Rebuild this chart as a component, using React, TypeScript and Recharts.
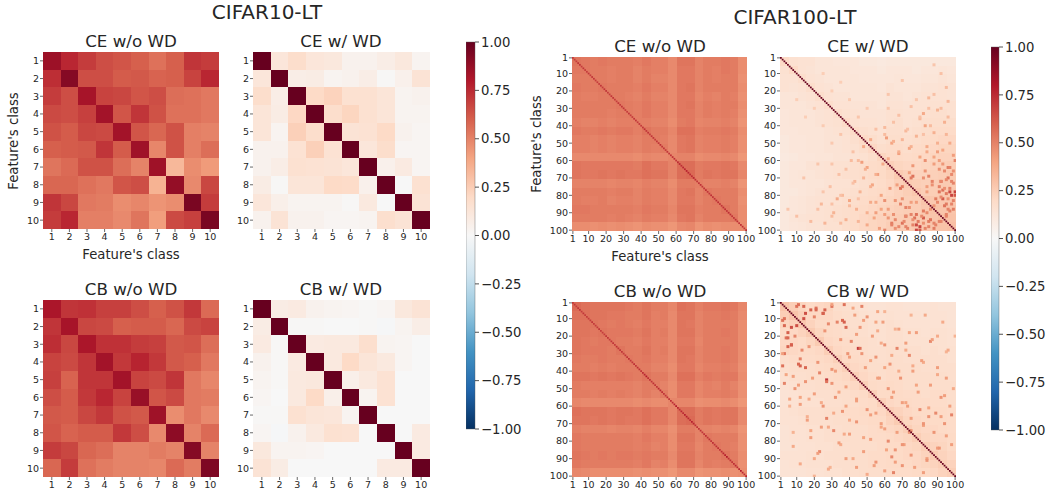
import React from "react";
import { ScatterChart, Scatter, XAxis, YAxis, ReferenceArea } from "recharts";

const classes10 = [1, 2, 3, 4, 5, 6, 7, 8, 9, 10];
const ticks100 = [1, 10, 20, 30, 40, 50, 60, 70, 80, 90, 100];
const barTicks = [-1, -0.75, -0.5, -0.25, 0, 0.25, 0.5, 0.75, 1];
const barEnds = [{ a: 0.5, b: -1 }, { a: 0.5, b: 1 }];

const ceNoWd10 = [
  [.86,.76,.70,.65,.63,.60,.55,.60,.72,.70],
  [.74,.92,.65,.65,.61,.62,.59,.60,.68,.76],
  [.70,.65,.83,.68,.67,.63,.65,.56,.55,.53],
  [.66,.65,.69,.84,.63,.72,.64,.55,.55,.53],
  [.64,.61,.67,.66,.84,.63,.58,.64,.51,.50],
  [.60,.61,.62,.72,.61,.85,.49,.64,.51,.56],
  [.54,.57,.64,.64,.56,.50,.85,.33,.47,.43],
  [.58,.58,.55,.53,.63,.65,.35,.88,.48,.67],
  [.72,.67,.53,.52,.47,.49,.45,.47,.95,.70],
  [.70,.76,.51,.51,.48,.54,.42,.66,.69,.95],
];
const ceWd10 = [
  [1,.12,.18,.12,.11,.04,.04,.07,.11,.03],
  [.12,1,.07,.08,.03,.04,.07,.01,.05,.14],
  [.18,.07,1,.20,.23,.16,.16,.13,.03,.04],
  [.13,.08,.21,1,.18,.22,.16,.13,.03,.03],
  [.13,.03,.24,.18,1,.14,.15,.20,.04,.02],
  [.04,.04,.15,.24,.15,1,.12,.18,.02,.02],
  [.04,.07,.16,.15,.14,.12,1,.05,.09,.02],
  [.08,.01,.13,.13,.20,.19,.05,1,0,.16],
  [.12,.06,.03,.03,.03,.01,.10,0,1,.14],
  [.04,.14,.04,.04,.02,.02,.03,.17,.14,1],
];
const cbNoWd10 = [
  [.82,.72,.73,.69,.69,.65,.60,.64,.71,.57],
  [.72,.83,.67,.66,.60,.61,.61,.58,.66,.68],
  [.74,.67,.82,.73,.73,.70,.69,.62,.63,.56],
  [.68,.66,.72,.84,.71,.77,.71,.62,.60,.53],
  [.69,.59,.72,.72,.84,.68,.66,.72,.53,.49],
  [.65,.61,.71,.76,.68,.87,.63,.66,.53,.52],
  [.62,.61,.67,.71,.64,.62,.85,.47,.53,.48],
  [.63,.59,.61,.61,.71,.65,.48,.90,.50,.57],
  [.70,.67,.58,.56,.50,.50,.52,.50,.92,.50],
  [.58,.70,.55,.52,.50,.50,.49,.57,.52,.94],
];
const cbWd10 = [
  [1,.08,.09,.04,.03,.02,.01,.02,.11,.14],
  [.08,1,.01,.01,0,0,.01,-.01,.03,.07],
  [.09,.01,1,.09,.10,.10,.17,.03,.02,0],
  [.04,.01,.09,1,.10,.20,.13,.10,.02,0],
  [.03,.01,.10,.11,1,.06,.10,.15,0,0],
  [.02,0,.10,.20,.06,1,.03,.15,0,0],
  [.01,.01,.16,.13,.12,.03,1,0,0,0],
  [.02,-.01,.04,.10,.16,.15,0,1,0,.09],
  [.11,.03,.03,.02,0,0,0,0,1,.09],
  [.14,.08,0,0,0,0,0,.09,.09,1],
];

// CIFAR100 panels: visual estimates per block of five classes (20 x 20 blocks), not per cell.
const ceNoWd100 = [
  [.54,.53,.52,.53,.52,.52,.52,.51,.53,.51,.51,.48,.54,.54,.50,.52,.52,.53,.52,.47],
  [.53,.53,.52,.52,.51,.52,.52,.50,.52,.51,.51,.48,.53,.53,.50,.52,.51,.53,.52,.47],
  [.52,.52,.52,.52,.51,.52,.52,.50,.52,.50,.50,.48,.53,.53,.50,.52,.51,.52,.52,.46],
  [.53,.52,.52,.53,.52,.52,.52,.51,.53,.51,.51,.48,.53,.54,.50,.52,.52,.52,.52,.47],
  [.52,.51,.51,.52,.52,.52,.51,.50,.52,.50,.50,.48,.53,.53,.49,.51,.50,.52,.51,.46],
  [.52,.52,.52,.52,.52,.53,.52,.51,.53,.51,.51,.48,.53,.54,.50,.52,.51,.52,.52,.47],
  [.52,.52,.52,.52,.51,.52,.52,.51,.53,.51,.51,.48,.53,.53,.50,.52,.51,.52,.51,.46],
  [.51,.50,.50,.51,.50,.51,.51,.51,.51,.50,.50,.47,.52,.53,.49,.50,.50,.51,.50,.45],
  [.53,.52,.52,.53,.52,.53,.53,.51,.54,.52,.52,.49,.55,.55,.51,.52,.52,.53,.52,.47],
  [.51,.51,.50,.51,.50,.51,.51,.50,.52,.52,.51,.48,.53,.54,.50,.51,.51,.52,.51,.46],
  [.51,.51,.50,.51,.50,.51,.51,.50,.52,.51,.52,.48,.53,.54,.50,.51,.51,.52,.51,.46],
  [.48,.48,.48,.48,.48,.48,.48,.47,.49,.48,.48,.49,.50,.50,.47,.48,.48,.49,.48,.44],
  [.54,.53,.53,.53,.53,.53,.53,.52,.55,.53,.53,.50,.56,.56,.52,.53,.53,.54,.53,.48],
  [.54,.53,.53,.54,.53,.54,.53,.53,.55,.54,.54,.50,.56,.57,.52,.54,.53,.54,.54,.49],
  [.50,.50,.50,.50,.49,.50,.50,.49,.51,.50,.50,.47,.52,.52,.51,.50,.50,.51,.50,.45],
  [.52,.52,.52,.52,.51,.52,.52,.50,.52,.51,.51,.48,.53,.54,.50,.53,.52,.52,.52,.47],
  [.52,.51,.51,.52,.50,.51,.51,.50,.52,.51,.51,.48,.53,.53,.50,.52,.53,.52,.52,.46],
  [.53,.53,.52,.52,.52,.52,.52,.51,.53,.52,.52,.49,.54,.54,.51,.52,.52,.54,.52,.47],
  [.52,.52,.52,.52,.51,.52,.51,.50,.52,.51,.51,.48,.53,.54,.50,.52,.52,.52,.53,.47],
  [.47,.47,.46,.47,.46,.47,.46,.45,.47,.46,.46,.44,.48,.49,.45,.47,.46,.47,.47,.47],
];
const cbNoWd100 = [
  [.57,.55,.54,.54,.54,.54,.53,.52,.54,.52,.52,.49,.55,.54,.51,.53,.53,.54,.53,.49],
  [.55,.55,.54,.54,.53,.53,.52,.52,.54,.51,.52,.48,.54,.54,.50,.52,.52,.53,.52,.48],
  [.54,.54,.54,.53,.52,.53,.52,.51,.53,.51,.51,.48,.54,.53,.50,.52,.52,.52,.52,.47],
  [.54,.54,.53,.54,.53,.53,.53,.52,.54,.51,.52,.48,.54,.54,.50,.52,.52,.53,.52,.47],
  [.54,.53,.52,.53,.53,.52,.52,.51,.53,.51,.51,.48,.53,.53,.49,.52,.52,.52,.52,.47],
  [.54,.53,.53,.53,.52,.54,.52,.52,.54,.51,.52,.48,.54,.54,.50,.52,.52,.53,.52,.47],
  [.53,.52,.52,.53,.52,.52,.53,.52,.53,.51,.51,.48,.54,.53,.50,.52,.52,.53,.52,.47],
  [.52,.52,.51,.52,.51,.52,.52,.52,.52,.50,.50,.47,.53,.53,.49,.51,.51,.52,.51,.46],
  [.54,.54,.53,.54,.53,.54,.53,.52,.54,.52,.52,.48,.55,.55,.51,.53,.52,.53,.53,.47],
  [.52,.51,.51,.51,.51,.51,.51,.50,.52,.52,.50,.47,.53,.53,.49,.51,.50,.52,.50,.46],
  [.52,.52,.51,.52,.51,.52,.51,.50,.52,.50,.52,.47,.53,.53,.49,.51,.51,.52,.51,.46],
  [.49,.48,.48,.48,.48,.48,.48,.47,.48,.47,.47,.49,.49,.49,.46,.47,.47,.48,.47,.44],
  [.55,.54,.54,.54,.53,.54,.54,.53,.55,.53,.53,.49,.56,.56,.52,.54,.53,.54,.54,.48],
  [.54,.54,.53,.54,.53,.54,.53,.53,.55,.53,.53,.49,.56,.57,.52,.54,.53,.54,.54,.48],
  [.51,.50,.50,.50,.49,.50,.50,.49,.51,.49,.49,.46,.52,.52,.50,.50,.49,.50,.49,.45],
  [.53,.52,.52,.52,.52,.52,.52,.51,.53,.51,.51,.47,.54,.54,.50,.53,.52,.52,.52,.46],
  [.53,.52,.52,.52,.52,.52,.52,.51,.52,.50,.51,.47,.53,.53,.49,.52,.53,.52,.51,.46],
  [.54,.53,.52,.53,.52,.53,.53,.52,.53,.52,.52,.48,.54,.54,.50,.52,.52,.54,.52,.47],
  [.53,.52,.52,.52,.52,.52,.52,.51,.53,.50,.51,.47,.54,.54,.49,.52,.51,.52,.53,.46],
  [.49,.48,.47,.47,.47,.47,.47,.46,.47,.46,.46,.44,.48,.48,.45,.46,.46,.47,.46,.47],
];
const ceWd100 = [
  [.20,.16,.15,.15,.13,.13,.12,.12,.12,.11,.11,.10,.11,.11,.11,.11,.11,.11,.11,.11],
  [.16,.20,.15,.14,.13,.13,.13,.13,.12,.12,.12,.11,.12,.12,.12,.11,.12,.12,.13,.12],
  [.15,.15,.18,.15,.14,.13,.13,.13,.13,.12,.12,.12,.12,.13,.12,.12,.13,.13,.14,.13],
  [.15,.14,.15,.18,.15,.14,.13,.13,.13,.13,.13,.12,.14,.13,.13,.13,.14,.14,.15,.14],
  [.13,.13,.14,.15,.18,.15,.14,.14,.13,.13,.13,.13,.14,.14,.13,.14,.15,.15,.15,.14],
  [.13,.13,.13,.14,.15,.18,.15,.15,.14,.14,.14,.13,.15,.15,.14,.15,.15,.16,.16,.16],
  [.12,.13,.13,.13,.14,.15,.18,.16,.15,.14,.14,.14,.16,.16,.15,.15,.16,.17,.17,.16],
  [.12,.13,.13,.13,.14,.15,.16,.19,.16,.15,.15,.14,.16,.17,.15,.16,.17,.18,.18,.18],
  [.12,.12,.13,.13,.13,.14,.15,.16,.19,.17,.16,.15,.17,.17,.16,.17,.18,.19,.19,.19],
  [.11,.12,.12,.13,.13,.14,.14,.15,.17,.20,.18,.16,.18,.18,.17,.18,.19,.20,.21,.21],
  [.11,.12,.12,.13,.13,.14,.14,.15,.16,.18,.21,.18,.19,.19,.18,.19,.20,.21,.22,.22],
  [.10,.11,.12,.12,.13,.13,.14,.14,.15,.16,.18,.22,.20,.20,.19,.20,.21,.22,.23,.23],
  [.11,.12,.12,.14,.14,.15,.16,.16,.17,.18,.19,.20,.24,.22,.21,.21,.22,.23,.24,.25],
  [.11,.12,.13,.13,.14,.15,.16,.17,.17,.18,.19,.20,.22,.26,.24,.23,.23,.24,.25,.26],
  [.11,.12,.12,.13,.13,.14,.15,.15,.16,.17,.18,.19,.21,.24,.26,.25,.24,.25,.26,.26],
  [.11,.11,.12,.13,.14,.15,.15,.16,.17,.18,.19,.20,.21,.23,.25,.27,.25,.25,.26,.27],
  [.11,.12,.13,.14,.15,.15,.16,.17,.18,.19,.20,.21,.22,.23,.24,.25,.28,.27,.27,.27],
  [.11,.12,.13,.14,.15,.16,.17,.18,.19,.20,.21,.22,.23,.24,.25,.25,.27,.29,.28,.28],
  [.11,.13,.14,.15,.15,.16,.17,.18,.19,.21,.22,.23,.24,.25,.26,.26,.27,.28,.30,.29],
  [.11,.12,.13,.14,.14,.16,.16,.18,.19,.21,.22,.23,.25,.26,.26,.27,.27,.28,.29,.30],
];
const cbWd100 = [
  [.28,.25,.22,.20,.21,.22,.18,.17,.16,.15,.14,.14,.15,.15,.14,.14,.14,.15,.14,.14],
  [.25,.28,.24,.21,.21,.21,.19,.18,.17,.16,.15,.15,.16,.15,.15,.15,.14,.15,.15,.14],
  [.22,.24,.27,.23,.20,.20,.19,.18,.17,.17,.16,.16,.17,.16,.15,.15,.15,.15,.15,.14],
  [.20,.21,.23,.26,.22,.20,.19,.18,.18,.17,.16,.16,.17,.17,.16,.16,.15,.16,.16,.15],
  [.21,.21,.20,.22,.26,.21,.20,.19,.18,.18,.17,.16,.17,.17,.16,.16,.16,.16,.16,.15],
  [.22,.21,.20,.20,.21,.25,.21,.20,.19,.18,.17,.17,.18,.17,.17,.17,.16,.17,.16,.16],
  [.18,.19,.19,.19,.20,.21,.24,.21,.20,.19,.18,.17,.18,.18,.17,.17,.17,.17,.17,.16],
  [.17,.18,.18,.18,.19,.20,.21,.24,.21,.20,.18,.18,.19,.18,.18,.18,.17,.17,.17,.17],
  [.16,.17,.17,.18,.18,.19,.20,.21,.24,.21,.19,.18,.19,.19,.18,.18,.18,.18,.18,.17],
  [.15,.16,.17,.17,.18,.18,.19,.20,.21,.24,.20,.19,.20,.19,.18,.18,.18,.18,.18,.18],
  [.14,.15,.16,.16,.17,.17,.18,.18,.19,.20,.24,.20,.20,.20,.19,.19,.18,.19,.19,.18],
  [.14,.15,.16,.16,.16,.17,.17,.18,.18,.19,.20,.24,.21,.20,.20,.19,.19,.19,.19,.18],
  [.15,.16,.17,.17,.17,.18,.18,.19,.19,.20,.20,.21,.25,.23,.21,.20,.20,.20,.20,.19],
  [.15,.15,.16,.17,.17,.17,.18,.18,.19,.19,.20,.20,.23,.26,.22,.21,.20,.20,.20,.19],
  [.14,.15,.15,.16,.16,.17,.17,.18,.18,.18,.19,.20,.21,.22,.25,.22,.21,.21,.20,.19],
  [.14,.15,.15,.16,.16,.17,.17,.18,.18,.18,.19,.19,.20,.21,.22,.25,.22,.21,.21,.20],
  [.14,.14,.15,.15,.16,.16,.17,.17,.18,.18,.18,.19,.20,.20,.21,.22,.25,.23,.22,.20],
  [.15,.15,.15,.16,.16,.17,.17,.17,.18,.18,.19,.19,.20,.20,.21,.21,.23,.26,.23,.21],
  [.14,.15,.15,.16,.16,.16,.17,.17,.18,.18,.19,.19,.20,.20,.20,.21,.22,.23,.25,.23],
  [.14,.14,.14,.15,.15,.16,.16,.17,.17,.18,.18,.18,.19,.19,.19,.20,.20,.21,.23,.25],
];

const ceNoWdDiag = [.72,.70,.70,.72,.72,.70,.72,.70,.70,.72,.70,.72,.72,.70,.70,.70,.72,.70,.72,.72,.70,.70,.72,.72,.70,.70,.72,.70,.72,.72,.70,.70,.72,.70,.70,.72,.72,.70,.72,.70,.72,.74,.72,.72,.70,.72,.72,.70,.72,.72,.74,.72,.72,.70,.72,.72,.72,.74,.74,.72,.74,.76,.74,.76,.76,.78,.76,.74,.74,.76,.74,.72,.72,.74,.72,.72,.74,.72,.72,.74,.72,.72,.74,.74,.72,.72,.74,.74,.72,.74,.74,.72,.72,.74,.74,.72,.74,.74,.72,.76];
const cbNoWdDiag = [.72,.72,.70,.72,.72,.70,.72,.70,.70,.70,.70,.72,.70,.70,.70,.72,.70,.70,.70,.72,.72,.70,.72,.72,.70,.74,.72,.72,.72,.70,.72,.72,.74,.72,.72,.74,.72,.74,.74,.72,.74,.76,.80,.74,.72,.72,.74,.72,.72,.76,.76,.74,.72,.72,.74,.72,.74,.74,.76,.80,.76,.74,.76,.74,.78,.78,.76,.74,.78,.76,.74,.72,.72,.74,.72,.72,.74,.72,.74,.72,.74,.72,.74,.74,.72,.74,.76,.78,.80,.74,.74,.72,.74,.76,.74,.76,.80,.76,.74,.78];
const ceWdDiag = [1,1,1,1,1,1,1,1,1,1,1,1,1,1,1,1,1,1,1,1,1,1,1,1,1,1,1,1,1,1,1,1,1,1,1,1,1,1,1,1,1,1,1,1,1,1,1,1,1,1,1,1,1,1,1,1,1,1,1,1,1,1,1,1,1,1,1,1,1,1,1,1,1,1,1,1,1,1,1,1,1,1,1,1,1,1,1,1,1,1,1,1,1,1,1,1,1,1,1,1];
const cbWdDiag = ceWdDiag;

// [row, column, value]: individually visible cells, roughly located from zooms, mirrored across the diagonal.
const ceWdHot = [
  [77,93,.55],[64,96,.52],[96,70,.55],[97,64,.5],[93,82,.62],[91,78,.55],[82,89,.52],[86,94,.55],[85,98,.5],[75,91,.5],[79,95,.52],
  [97,78,.66],[98,80,.68],[78,100,.68],[80,100,.62],[72,92,.58],[66,94,.48],[60,100,.5],[69,85,.5],[73,99,.5],[88,96,.5],[92,72,.48],
  [95,85,.52],[87,72,.5],[76,69,.55],[75,70,.52],[83,66,.45],[47,61,.42],[50,64,.4],[60,83,.46],[55,90,.42],[40,83,.4],[33,82,.38],
  [5,88,.28],[10,92,.3],[14,70,.28],[18,95,.32],[22,62,.28],[24,85,.33],[26,96,.34],[29,75,.3],[31,90,.35],[34,68,.3],[36,80,.33],
  [38,94,.36],[41,60,.32],[43,72,.33],[44,88,.36],[46,78,.35],[48,52,.38],[49,65,.36],[50,97,.38],[52,84,.38],[53,74,.4],[54,93,.4],
  [56,68,.42],[57,99,.42],[58,80,.4],[59,62,.38],[62,88,.42],[63,76,.44],[65,91,.46],[67,74,.42],[68,98,.48],[70,82,.46],[71,95,.48],
  [74,87,.46],[76,97,.5],[78,84,.42],[81,92,.48],[83,99,.5],[84,75,.42],[86,88,.45],[89,97,.5],[90,84,.48],[92,95,.5],[94,76,.46],
  [95,91,.5],[96,82,.46],[98,72,.5],[99,88,.52],[99,66,.46],[93,62,.44],[88,58,.4],[84,55,.38],[90,50,.36],[95,45,.34],[86,40,.32],
  [80,35,.3],[92,30,.32],[75,52,.36],[70,48,.34],[65,38,.3],[60,45,.32],[78,25,.28],[88,22,.3],[55,42,.3],[50,30,.27],[45,35,.28],
  [40,25,.26],[35,15,.25],[30,20,.25],[25,10,.25],[82,45,.3],[73,42,.3],[68,55,.36],[62,30,.28],[96,35,.32],[91,60,.42],[85,30,.3],
];
const cbWdHot = [
  [5,26,.6],[7,25,.62],[7,15,.65],[4,21,.55],[2,11,.55],[45,27,.72],[36,11,.58],[25,7,.6],[30,3,.55],[37,2,.55],[12,37,.6],[15,38,.58],
  [21,5,.58],[27,46,.55],[14,10,.65],[23,86,.48],[65,98,.5],[67,27,.5],[74,31,.48],[10,3,.55],[18,5,.6],[3,14,.58],[9,20,.5],
  [33,12,.5],[41,23,.5],[50,9,.45],[55,32,.45],[62,50,.45],[70,58,.42],[75,74,.45],[80,62,.48],[88,75,.45],[92,55,.45],[85,66,.45],
  [47,3,.5],[60,25,.45],[38,60,.4],[30,47,.45],[18,74,.4],[12,55,.4],
  [2,30,.42],[4,42,.4],[6,60,.35],[8,75,.35],[11,48,.42],[13,28,.48],[16,66,.36],[19,44,.42],[20,90,.38],[22,35,.45],[24,58,.38],
  [26,17,.45],[28,72,.38],[29,95,.35],[32,40,.42],[34,52,.4],[35,82,.38],[39,30,.45],[40,68,.38],[42,90,.38],[44,56,.42],[46,15,.45],
  [48,78,.4],[49,38,.42],[52,65,.42],[53,20,.42],[54,94,.42],[57,44,.42],[58,72,.4],[59,12,.42],[61,85,.4],[63,36,.45],[64,55,.42],
  [66,92,.42],[68,16,.42],[69,44,.45],[71,82,.42],[72,24,.42],[73,60,.42],[76,40,.42],[77,95,.42],[78,18,.42],[79,52,.42],[81,34,.42],
  [82,70,.45],[83,8,.38],[84,90,.42],[86,48,.42],[87,22,.42],[89,64,.48],[90,38,.42],[91,84,.45],[93,12,.38],[94,70,.45],[95,44,.42],
  [96,28,.38],[97,60,.42],[98,82,.42],[99,50,.38],[100,20,.35],[31,64,.38],[43,8,.42],[17,56,.38],[56,6,.4],[67,75,.42],[37,76,.38],
];

const palette = ["#053061","#2166ac","#4393c3","#92c5de","#d1e5f0","#f7f7f7","#fddbc7","#f4a582","#d6604d","#b2182b","#67001f"];
const HOT_SPAN = 1.7;

function hexRgb(h: string) {
  return [1, 3, 5].map((i) => parseInt(h.slice(i, i + 2), 16));
}
function colorOf(v: number) {
  const t = Math.max(0, Math.min(0.9999, (v + 1) / 2)) * (palette.length - 1);
  const i = Math.floor(t);
  const a = hexRgb(palette[i]);
  const b = hexRgb(palette[i + 1]);
  const f = t - i;
  return `rgb(${a.map((c, k) => Math.round(c + (b[k] - c) * f)).join(",")})`;
}

type Cell = { col: number; row: number; v: number; span: number };

function cellsFromGrid(grid: number[][], span: number): Cell[] {
  return grid.flatMap((r, i) =>
    r.map((v, j) => ({ col: span * j + (span + 1) / 2, row: span * i + (span + 1) / 2, v, span }))
  );
}
function cellsFromDiag(diag: number[]): Cell[] {
  return diag.map((v, i) => ({ col: i + 1, row: i + 1, v, span: 1 }));
}
function cellsFromHot(hot: number[][]): Cell[] {
  return hot.flatMap(([r, c, v]) => [
    { col: c, row: r, v, span: HOT_SPAN },
    { col: r, row: c, v, span: HOT_SPAN },
  ]);
}

const FONT = "'DejaVu Sans', sans-serif";
const INK = "#262626";
const AXIS_Y = 26;
const AXIS_X = 20;
const PAD = 12;

function Heat({ left, top, w, h, n, ticks, layers }: { left: number; top: number; w: number; h: number; n: number; ticks: number[]; layers: Cell[][] }) {
  const shape = (p: any) => {
    const d = p.payload as Cell;
    const cw = (w / n) * d.span;
    const ch = (h / n) * d.span;
    return <rect x={p.cx - cw / 2} y={p.cy - ch / 2} width={cw} height={ch} fill={colorOf(d.v)} shapeRendering={d.span >= 5 || n === 10 ? "crispEdges" : undefined} />;
  };
  const tick = { fontSize: 9.5, fill: INK, fontFamily: FONT };
  return (
    <div style={{ position: "absolute", left: left - AXIS_Y, top: top - PAD }}>
      <ScatterChart width={w + AXIS_Y + PAD} height={h + PAD + AXIS_X} margin={{ top: PAD, right: PAD, bottom: 0, left: 0 }}>
        <XAxis type="number" dataKey="col" domain={[0.5, n + 0.5]} ticks={ticks} interval={0} allowDataOverflow height={AXIS_X} axisLine={false} tickSize={3} tickLine={{ stroke: INK, strokeWidth: 0.7 }} tick={tick} tickMargin={1} />
        <YAxis type="number" dataKey="row" reversed domain={[0.5, n + 0.5]} ticks={ticks} interval={0} allowDataOverflow width={AXIS_Y} axisLine={false} tickSize={3} tickLine={{ stroke: INK, strokeWidth: 0.7 }} tick={tick} tickMargin={1} />
        {layers.map((data, i) => (
          <Scatter key={i} data={data} isAnimationActive={false} shape={shape} />
        ))}
      </ScatterChart>
    </div>
  );
}

function ColorBar({ left, top, w, h, id }: { left: number; top: number; w: number; h: number; id: string }) {
  return (
    <div style={{ position: "absolute", left, top: top - PAD }}>
      <ScatterChart width={w + 50} height={h + 2 * PAD} margin={{ top: PAD, right: 0, bottom: PAD, left: 0 }}>
        <defs>
          <linearGradient id={id} x1="0" y1="0" x2="0" y2="1">
            {palette.map((c, i) => palette[palette.length - 1 - i]).map((c, i) => (
              <stop key={c} offset={`${i * 10}%`} stopColor={c} />
            ))}
          </linearGradient>
        </defs>
        <XAxis type="number" dataKey="a" domain={[0, 1]} hide />
        <YAxis type="number" dataKey="b" orientation="right" domain={[-1, 1]} ticks={barTicks} interval={0} width={50} axisLine={false} tickSize={4} tickMargin={2} tickLine={{ stroke: INK, strokeWidth: 0.8 }} tick={{ fontSize: 13.2, fill: INK, fontFamily: FONT }} tickFormatter={(v: number) => v.toFixed(2).replace("-", "\u2212")} />
        <Scatter data={barEnds} isAnimationActive={false} shape={() => <g />} />
        <ReferenceArea y1={-1} y2={1} x1={0} x2={1} fill={`url(#${id})`} fillOpacity={1} stroke="#555" strokeWidth={0.4} />
      </ScatterChart>
    </div>
  );
}

function Label({ text, cx, cy, size, rotate }: { text: string; cx: number; cy: number; size: number; rotate?: boolean }) {
  return (
    <div style={{ position: "absolute", left: cx, top: cy, transform: `translate(-50%,-50%)${rotate ? " rotate(-90deg)" : ""}`, fontFamily: FONT, fontSize: size, color: INK, whiteSpace: "nowrap", lineHeight: 1 }}>
      {text}
    </div>
  );
}

export default function App() {
  return (
    <div style={{ position: "absolute", left: 0, top: 0, width: 1048, height: 498, background: "#fff", overflow: "hidden" }}>
      <Label text="CIFAR10-LT" cx={267} cy={12} size={20} />
      <Label text="CIFAR100-LT" cx={795} cy={17} size={20} />

      <Label text="CE w/o WD" cx={131} cy={41} size={16.7} />
      <Label text="CE w/ WD" cx={341} cy={41} size={16.7} />
      <Label text="CB w/o WD" cx={131} cy={289} size={16.7} />
      <Label text="CB w/ WD" cx={341} cy={289} size={16.7} />
      <Label text="Feature's class" cx={131} cy={255} size={13.2} />
      <Label text="Feature's class" cx={14} cy={141} size={13.2} rotate />

      <Label text="CE w/o WD" cx={660} cy={46} size={16.7} />
      <Label text="CE w/ WD" cx={868} cy={46} size={16.7} />
      <Label text="CB w/o WD" cx={660} cy={291} size={16.7} />
      <Label text="CB w/ WD" cx={868} cy={291} size={16.7} />
      <Label text="Feature's class" cx={660} cy={257} size={13.2} />
      <Label text="Feature's class" cx={537} cy={144} size={13.2} rotate />

      <Heat left={43} top={52} w={176} h={177} n={10} ticks={classes10} layers={[cellsFromGrid(ceNoWd10, 1)]} />
      <Heat left={253} top={52} w={177} h={177} n={10} ticks={classes10} layers={[cellsFromGrid(ceWd10, 1)]} />
      <Heat left={43} top={300} w={176} h={177} n={10} ticks={classes10} layers={[cellsFromGrid(cbNoWd10, 1)]} />
      <Heat left={253} top={300} w={177} h={177} n={10} ticks={classes10} layers={[cellsFromGrid(cbWd10, 1)]} />

      <Heat left={572} top={57} w={175} h={174} n={100} ticks={ticks100} layers={[cellsFromGrid(ceNoWd100, 5), cellsFromDiag(ceNoWdDiag)]} />
      <Heat left={780} top={57} w={176} h={174} n={100} ticks={ticks100} layers={[cellsFromGrid(ceWd100, 5), cellsFromHot(ceWdHot), cellsFromDiag(ceWdDiag)]} />
      <Heat left={572} top={302} w={175} h={175} n={100} ticks={ticks100} layers={[cellsFromGrid(cbNoWd100, 5), cellsFromDiag(cbNoWdDiag)]} />
      <Heat left={780} top={302} w={176} h={175} n={100} ticks={ticks100} layers={[cellsFromGrid(cbWd100, 5), cellsFromHot(cbWdHot), cellsFromDiag(cbWdDiag)]} />

      <ColorBar left={466} top={42} w={9} h={387} id="barA" />
      <ColorBar left={991} top={47} w={8} h={383} id="barB" />
    </div>
  );
}
